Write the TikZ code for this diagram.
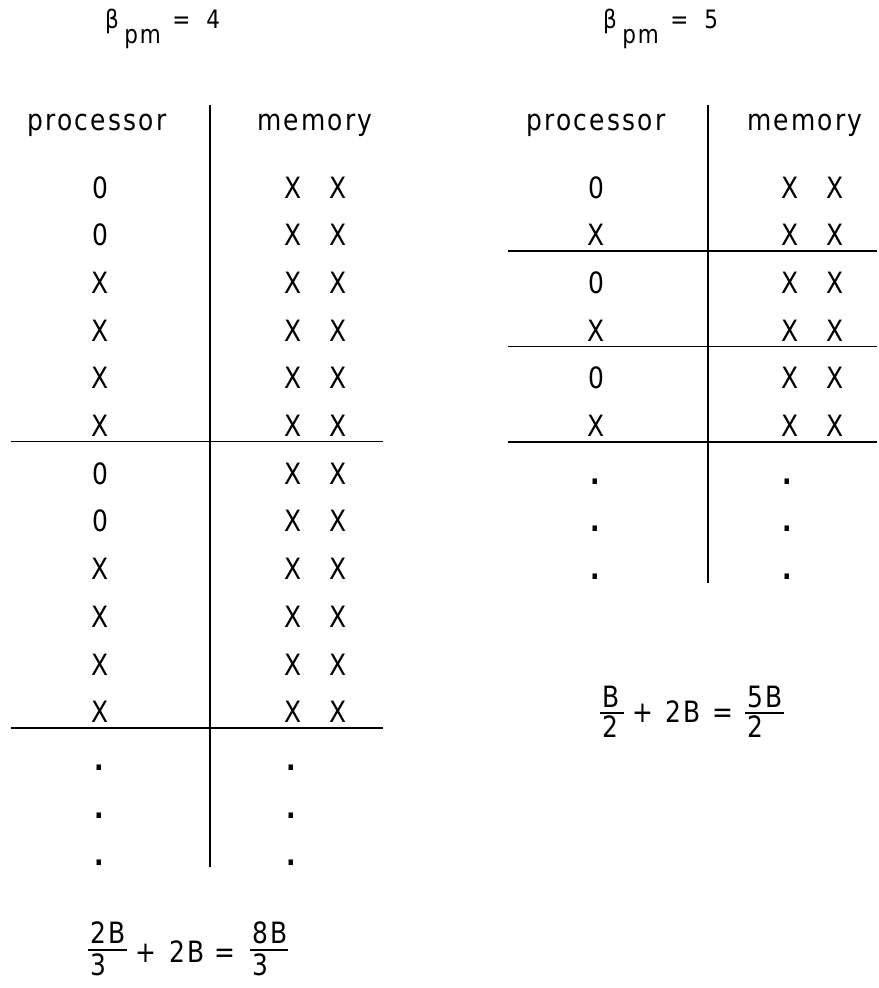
\documentclass[tikz,border=0pt]{standalone}
\usepackage{fontspec}
\setmainfont{DejaVu Sans}[FakeStretch=0.85,LetterSpace=7.5]
\newcommand{\bodyfont}{\fontsize{22}{26}\selectfont}
\newcommand{\titlefont}{\fontsize{19}{22}\selectfont}
\newcommand{\memxx}{X\hspace{21pt}X}
\newcommand{\bdot}{\textbf{.}}
\begin{document}
\begin{tikzpicture}[x=0.75pt,y=-0.75pt,
    cell/.style={anchor=base,inner sep=0pt,font=\bodyfont},
    lcell/.style={cell,anchor=base west},
    rule/.style={line width=1.3pt},
    bar/.style={line width=1.1pt}]
  \useasboundingbox (0,0) rectangle (878,988);

  % beta_pm = 4
  \node[cell,font=\titlefont] (betaA) at (112,29) {β};
  \node[lcell,font=\titlefont] (pmA) at (124,44) {pm};
  \node[lcell,font=\titlefont] (valA) at (172,29) {=\hspace{12pt}4};
  \node[cell] (procA) at (97,131) {processor};
  \node[cell] (memA) at (315,131) {memory};

  \node[cell] (pA1) at (100,198) {0};      \node[cell] (mA1) at (315.5,198) {\memxx};
  \node[cell] (pA2) at (100,245.7) {0};    \node[cell] (mA2) at (315.5,245.7) {\memxx};
  \node[cell] (pA3) at (100,293.4) {X};    \node[cell] (mA3) at (315.5,293.4) {\memxx};
  \node[cell] (pA4) at (100,341.1) {X};    \node[cell] (mA4) at (315.5,341.1) {\memxx};
  \node[cell] (pA5) at (100,388.8) {X};    \node[cell] (mA5) at (315.5,388.8) {\memxx};
  \node[cell] (pA6) at (100,436.5) {X};    \node[cell] (mA6) at (315.5,436.5) {\memxx};
  \node[cell] (pA7) at (100,484.2) {0};    \node[cell] (mA7) at (315.5,484.2) {\memxx};
  \node[cell] (pA8) at (100,531.9) {0};    \node[cell] (mA8) at (315.5,531.9) {\memxx};
  \node[cell] (pA9) at (100,579.6) {X};    \node[cell] (mA9) at (315.5,579.6) {\memxx};
  \node[cell] (pA10) at (100,627.3) {X};   \node[cell] (mA10) at (315.5,627.3) {\memxx};
  \node[cell] (pA11) at (100,675) {X};     \node[cell] (mA11) at (315.5,675) {\memxx};
  \node[cell] (pA12) at (100,722.7) {X};   \node[cell] (mA12) at (315.5,722.7) {\memxx};
  \node[cell] (pA13) at (100,770.4) {\bdot}; \node[cell] (mA13) at (292,770.4) {\bdot};
  \node[cell] (pA14) at (100,818.1) {\bdot}; \node[cell] (mA14) at (292,818.1) {\bdot};
  \node[cell] (pA15) at (100,865.8) {\bdot}; \node[cell] (mA15) at (292,865.8) {\bdot};

  \coordinate (vA1) at (210,105);  \coordinate (vA2) at (210,867);
  \coordinate (hA1) at (11,441.5); \coordinate (hA2) at (383,441.5);
  \coordinate (hA3) at (11,728);   \coordinate (hA4) at (383,728);
  \draw[rule] (vA1) -- (vA2);
  \draw[rule] (hA1) -- (hA2);
  \draw[rule] (hA3) -- (hA4);

  % 2B/3 + 2B = 8B/3
  \node[lcell] (numA1) at (90,943) {2B};
  \node[lcell] (denA1) at (90,975) {3};
  \node[cell] (plusA) at (146,962) {+};
  \node[cell] (midA) at (187,962) {2B};
  \node[cell] (eqA) at (225,962) {=};
  \node[lcell] (numA2) at (252,943) {8B};
  \node[lcell] (denA2) at (252,975) {3};
  \coordinate (barA1) at (88,950);  \coordinate (barA2) at (127,950);
  \coordinate (barA3) at (250,950); \coordinate (barA4) at (288,950);
  \draw[bar] (barA1) -- (barA2);
  \draw[bar] (barA3) -- (barA4);

  % beta_pm = 5
  \node[cell,font=\titlefont] (betaB) at (610,29) {β};
  \node[lcell,font=\titlefont] (pmB) at (622,44) {pm};
  \node[lcell,font=\titlefont] (valB) at (670,29) {=\hspace{12pt}5};
  \node[cell] (procB) at (596,131) {processor};
  \node[cell] (memB) at (805,131) {memory};

  \node[cell] (pB1) at (596,198) {0};      \node[cell] (mB1) at (812.5,198) {\memxx};
  \node[cell] (pB2) at (596,245.7) {X};    \node[cell] (mB2) at (812.5,245.7) {\memxx};
  \node[cell] (pB3) at (596,293.4) {0};    \node[cell] (mB3) at (812.5,293.4) {\memxx};
  \node[cell] (pB4) at (596,341.1) {X};    \node[cell] (mB4) at (812.5,341.1) {\memxx};
  \node[cell] (pB5) at (596,388.8) {0};    \node[cell] (mB5) at (812.5,388.8) {\memxx};
  \node[cell] (pB6) at (596,436.5) {X};    \node[cell] (mB6) at (812.5,436.5) {\memxx};
  \node[cell] (pB7) at (596,484.2) {\bdot}; \node[cell] (mB7) at (788,484.2) {\bdot};
  \node[cell] (pB8) at (596,531.9) {\bdot}; \node[cell] (mB8) at (788,531.9) {\bdot};
  \node[cell] (pB9) at (596,579.6) {\bdot}; \node[cell] (mB9) at (788,579.6) {\bdot};

  \coordinate (vB1) at (708,105);  \coordinate (vB2) at (708,583);
  \coordinate (hB1) at (508,251);  \coordinate (hB2) at (877,251);
  \coordinate (hB3) at (508,346.5);\coordinate (hB4) at (877,346.5);
  \coordinate (hB5) at (508,442);  \coordinate (hB6) at (877,442);
  \draw[rule] (vB1) -- (vB2);
  \draw[rule] (hB1) -- (hB2);
  \draw[rule] (hB3) -- (hB4);
  \draw[rule] (hB5) -- (hB6);

  % B/2 + 2B = 5B/2
  \node[lcell] (numB1) at (602,707) {B};
  \node[lcell] (denB1) at (602,737) {2};
  \node[cell] (plusB) at (643,722) {+};
  \node[cell] (midB) at (683,722) {2B};
  \node[cell] (eqB) at (723,722) {=};
  \node[lcell] (numB2) at (747,707) {5B};
  \node[lcell] (denB2) at (747,737) {2};
  \coordinate (barB1) at (600,713); \coordinate (barB2) at (624,713);
  \coordinate (barB3) at (745,713); \coordinate (barB4) at (784,713);
  \draw[bar] (barB1) -- (barB2);
  \draw[bar] (barB3) -- (barB4);
\end{tikzpicture}
\end{document}
